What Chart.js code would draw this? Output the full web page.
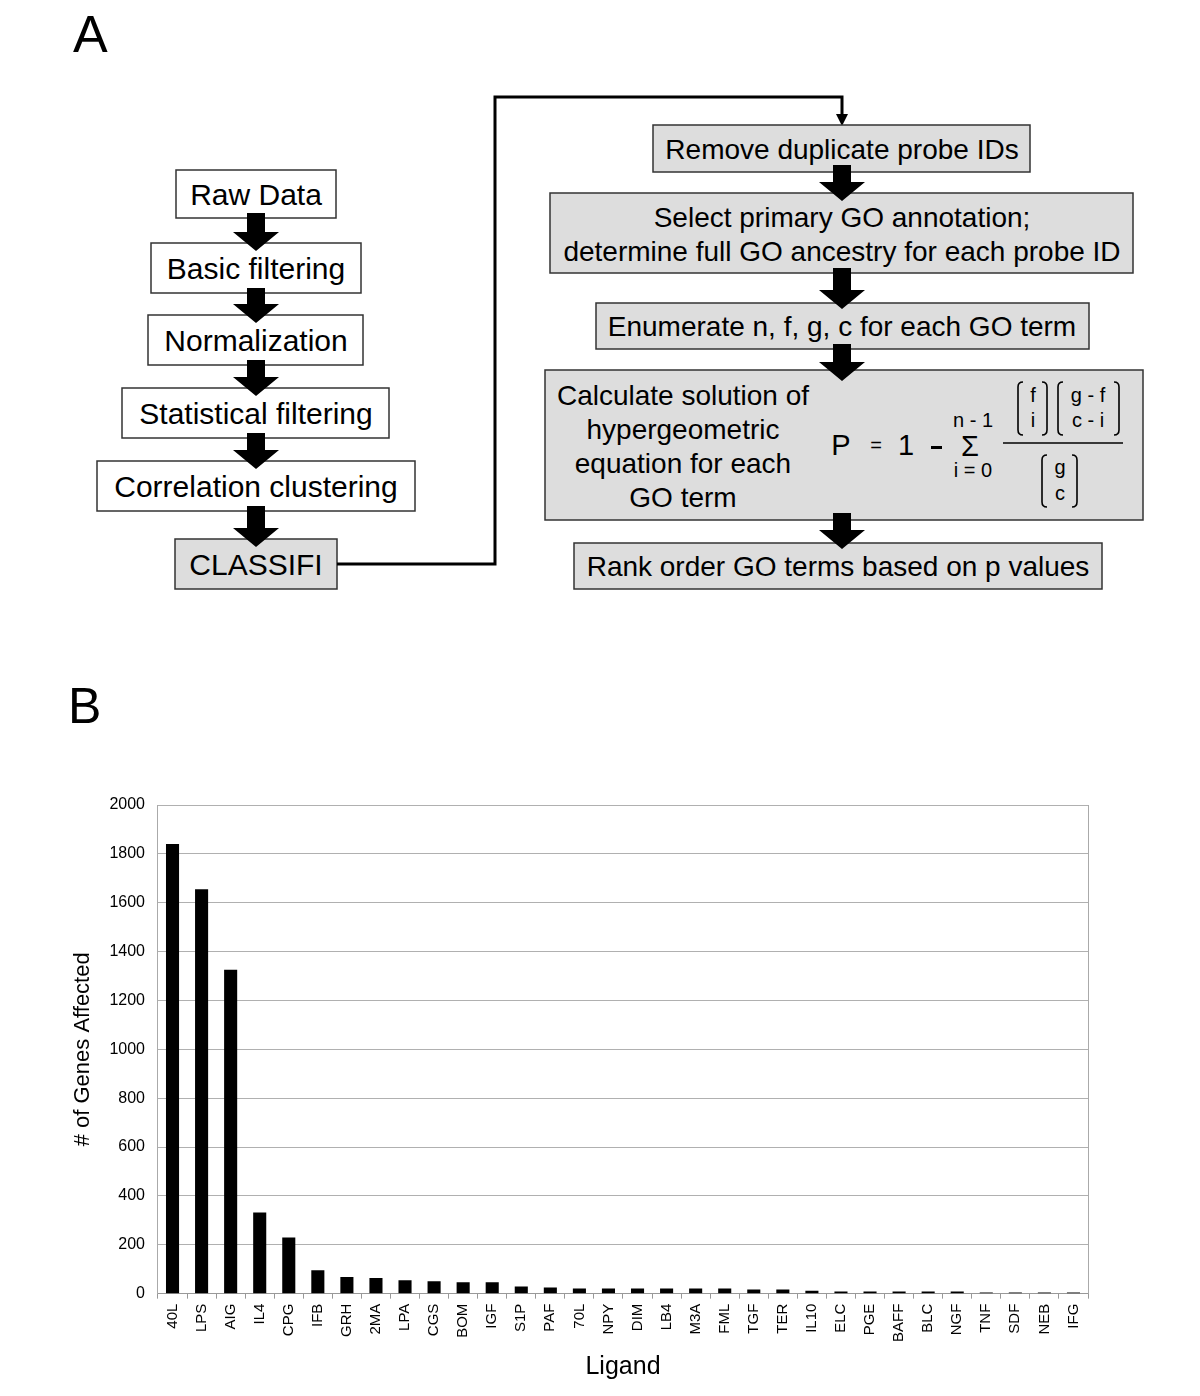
<!DOCTYPE html>
<html>
<head>
<meta charset="utf-8">
<script src="https://cdn.jsdelivr.net/npm/chart.js@4.4.1/dist/chart.umd.min.js"></script>
<style>
  body { margin: 0; background: #fff; }
  #page { position: relative; width: 1200px; height: 1396px; overflow: hidden; font-family: "Liberation Sans", Arial, sans-serif; }
  #flow { position: absolute; left: 0; top: 0; }
  #chartWrap { position: absolute; left: 0; top: 780px; width: 1200px; height: 616px; }
  .lbl { font-size: 30px; fill: #000; text-anchor: middle; }
  .lbr { font-size: 28px; fill: #000; text-anchor: middle; }
  .box { fill: #fff; stroke: #333; stroke-width: 1.5; }
  .gbox { fill: #dddddd; stroke: #333; stroke-width: 1.5; }
  .eq { fill: #000; text-anchor: middle; }
  .brk { fill: none; stroke: #000; stroke-width: 1.6; }
</style>
</head>
<body>
<div id="page">
  <svg id="flow" width="1200" height="780" font-family="Liberation Sans, Arial, sans-serif">
    <text x="73" y="52" font-size="52">A</text>
    <text x="68" y="723" font-size="50">B</text>

    <!-- left column -->
    <rect class="box" x="176" y="170" width="160" height="48"/>
    <text class="lbl" x="256" y="205">Raw Data</text>
    <rect class="box" x="151" y="243" width="210" height="50"/>
    <text class="lbl" x="256" y="279">Basic filtering</text>
    <rect class="box" x="148" y="315" width="215" height="50"/>
    <text class="lbl" x="256" y="351">Normalization</text>
    <rect class="box" x="122" y="388" width="267" height="50"/>
    <text class="lbl" x="256" y="424">Statistical filtering</text>
    <rect class="box" x="97" y="461" width="318" height="50"/>
    <text class="lbl" x="256" y="497">Correlation clustering</text>
    <rect class="gbox" x="175" y="539" width="162" height="50"/>
    <text class="lbl" x="256" y="575">CLASSIFI</text>

    <!-- connector -->
    <polyline points="337,564 495,564 495,97 842,97 842,116" fill="none" stroke="#000" stroke-width="3"/>
    <polygon points="836,114 848,114 842,126" fill="#000"/>

    <!-- right column -->
    <rect class="gbox" x="653" y="125" width="377" height="47"/>
    <text class="lbr" x="842" y="159">Remove duplicate probe IDs</text>
    <rect class="gbox" x="550" y="193" width="583" height="80"/>
    <text class="lbr" x="842" y="227">Select primary GO annotation;</text>
    <text class="lbr" x="842" y="261">determine full GO ancestry for each probe ID</text>
    <rect class="gbox" x="596" y="303" width="493" height="46"/>
    <text class="lbr" x="842" y="336">Enumerate n, f, g, c for each GO term</text>
    <rect class="gbox" x="545" y="370" width="598" height="150"/>
    <text class="lbr" x="683" y="405">Calculate solution of</text>
    <text class="lbr" x="683" y="439">hypergeometric</text>
    <text class="lbr" x="683" y="473">equation for each</text>
    <text class="lbr" x="683" y="507">GO term</text>
    <rect class="gbox" x="574" y="543" width="528" height="46"/>
    <text class="lbr" x="838" y="576">Rank order GO terms based on p values</text>

    <!-- formula -->
    <text class="eq" x="841" y="455" font-size="29">P</text>
    <text class="eq" x="876" y="452" font-size="20">=</text>
    <text class="eq" x="906" y="455" font-size="29">1</text>
    <rect x="931" y="446" width="11" height="3" fill="#000"/>
    <text class="eq" x="970" y="456" font-size="29">&#931;</text>
    <text class="eq" x="973" y="427" font-size="20">n - 1</text>
    <text class="eq" x="973" y="477" font-size="20">i = 0</text>
    <line x1="1003" y1="443" x2="1123" y2="443" stroke="#000" stroke-width="1.6"/>
    <path class="brk" d="M1023,382 Q1018,382 1018,387 L1018,430 Q1018,435 1023,435"/>
    <path class="brk" d="M1042,382 Q1047,382 1047,387 L1047,430 Q1047,435 1042,435"/>
    <text class="eq" x="1033" y="402" font-size="20">f</text>
    <text class="eq" x="1033" y="427" font-size="20">i</text>
    <path class="brk" d="M1063,382 Q1058,382 1058,387 L1058,430 Q1058,435 1063,435"/>
    <path class="brk" d="M1114,382 Q1119,382 1119,387 L1119,430 Q1119,435 1114,435"/>
    <text class="eq" x="1088" y="402" font-size="20">g - f</text>
    <text class="eq" x="1088" y="427" font-size="20">c - i</text>
    <path class="brk" d="M1047,455 Q1042,455 1042,460 L1042,502 Q1042,507 1047,507"/>
    <path class="brk" d="M1072,455 Q1077,455 1077,460 L1077,502 Q1077,507 1072,507"/>
    <text class="eq" x="1060" y="474" font-size="20">g</text>
    <text class="eq" x="1060" y="500" font-size="20">c</text>

    <g id="flowArrows" fill="#000"></g>
  </svg>
  <div id="chartWrap"><canvas id="barChart" width="1200" height="616"></canvas></div>
</div>
<script>
// flow arrows: [centre x, shaft top, tip]
const flowArrows = [
  [256, 213, 251], [256, 288, 323], [256, 360, 396], [256, 433, 469], [256, 506, 547],
  [842, 165, 201], [842, 268, 309], [842, 344, 381], [842, 513, 549]
];

const ligands = ["40L", "LPS", "AIG", "IL4", "CPG", "IFB", "GRH", "2MA", "LPA", "CGS", "BOM",
  "IGF", "S1P", "PAF", "70L", "NPY", "DIM", "LB4", "M3A", "FML", "TGF", "TER", "IL10", "ELC",
  "PGE", "BAFF", "BLC", "NGF", "TNF", "SDF", "NEB", "IFG"];
const genesAffected = [1840, 1655, 1326, 332, 230, 96, 68, 64, 55, 51, 47,
  47, 29, 25, 21, 21, 21, 21, 21, 21, 17, 17, 12, 9,
  9, 9, 9, 9, 5, 5, 5, 5];
const yMax = 2000;
const yStep = 200;

const svgNS = "http://www.w3.org/2000/svg";
const arrowGroup = document.getElementById("flowArrows");
flowArrows.forEach(([cx, top, tip]) => {
  const headTop = tip - 19;
  const p = document.createElementNS(svgNS, "polygon");
  p.setAttribute("points", [
    [cx - 9, top], [cx + 9, top], [cx + 9, headTop], [cx + 23, headTop],
    [cx, tip], [cx - 23, headTop], [cx - 9, headTop]
  ].map(pt => pt.join(",")).join(" "));
  arrowGroup.appendChild(p);
});

Chart.defaults.font.family = '"Liberation Sans", Arial, sans-serif';

const rightBorder = {
  id: "rightBorder",
  afterDraw(c) {
    const a = c.chartArea;
    const g = c.ctx;
    g.save();
    g.strokeStyle = "#aaaaaa";
    g.lineWidth = 1;
    g.beginPath();
    g.moveTo(a.right + 0.5, a.top);
    g.lineTo(a.right + 0.5, a.bottom);
    g.stroke();
    g.restore();
  }
};

const ctx = document.getElementById("barChart").getContext("2d");
new Chart(ctx, {
  type: "bar",
  data: {
    labels: ligands,
    datasets: [{
      data: genesAffected,
      backgroundColor: "#000",
      barPercentage: 0.45,
      categoryPercentage: 1
    }]
  },
  options: {
    responsive: false,
    animation: false,
    layout: { padding: { left: 70, right: 112, top: 25, bottom: 10 } },
    plugins: { legend: { display: false }, tooltip: { enabled: false } },
    scales: {
      x: {
        grid: { display: true, drawOnChartArea: false, offset: true, tickLength: 5, color: "#999" },
        border: { color: "#999" },
        ticks: { color: "#000", font: { size: 15 }, minRotation: 90, maxRotation: 90, autoSkip: false, padding: 5 },
        title: { display: true, text: "Ligand", color: "#000", font: { size: 25 }, padding: { top: 5, bottom: 4 } }
      },
      y: {
        min: 0,
        max: yMax,
        ticks: { stepSize: yStep, color: "#000", font: { size: 16 }, padding: 13, callback: v => String(v) },
        grid: { color: "#b0b0b0", drawTicks: false },
        border: { color: "#aaa" },
        title: { display: true, text: "# of Genes Affected", color: "#000", font: { size: 22 }, padding: { top: 0, bottom: 0 } }
      }
    }
  },
  plugins: [rightBorder]
});
</script>
</body>
</html>
